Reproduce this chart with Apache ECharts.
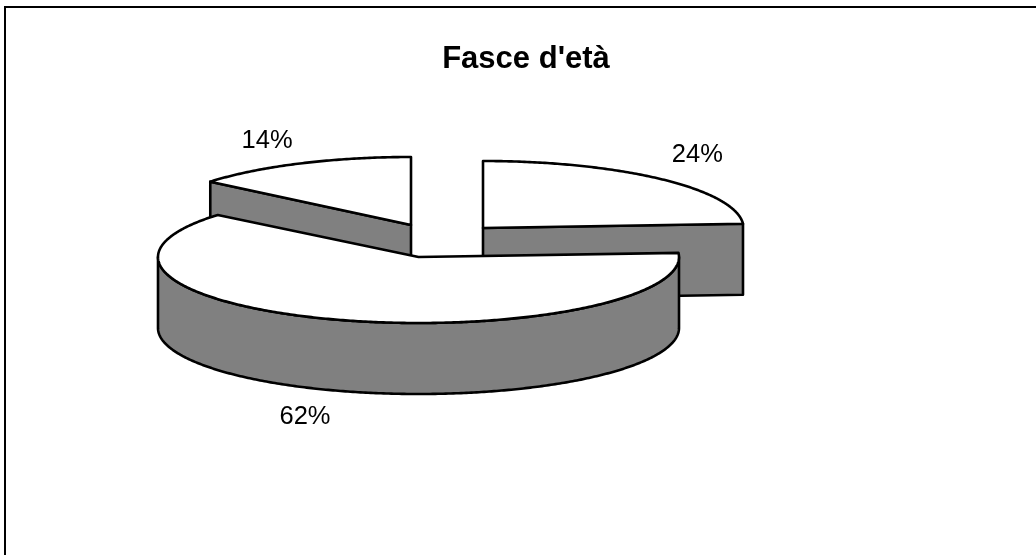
<!DOCTYPE html>
<html>
<head>
<meta charset="utf-8">
<style>html,body{margin:0;padding:0;background:#fff}#c{width:1036px;height:555px}</style>
<script src="https://cdn.jsdelivr.net/npm/echarts@6/dist/echarts.min.js"></script>
</head>
<body>
<div id="c"></div>
<script>
const chartTitle = "Fasce d'età";
const sliceValues = [24, 62, 14];
const drawOrder = [2, 0, 1];

const sliceCenters = [[483, 228], [418.5, 257], [411, 225]];
const sliceRadiiY = [67, 66, 68];
const labelNudges = [[36, -24], [-33, 26], [-33, -23]];
const radiusX = 260.5;
const depth = 71;
const FONT = '"Liberation Sans", Arial, sans-serif';

const total = sliceValues.reduce((a, b) => a + b, 0);
let acc = 0;
const slices = sliceValues.map((v, i) => {
  const a0 = acc / total * 2 * Math.PI;
  acc += v;
  return { a0, a1: acc / total * 2 * Math.PI, i };
});

function rim(s, t) {
  const c = sliceCenters[s.i];
  return [c[0] + radiusX * Math.sin(t), c[1] - sliceRadiiY[s.i] * Math.cos(t)];
}
function arc(s, from, to) {
  const n = Math.max(2, Math.ceil((to - from) / 0.01));
  const pts = [];
  for (let k = 0; k <= n; k++) pts.push(rim(s, from + (to - from) * k / n));
  return pts;
}
const down = p => [p[0], p[1] + depth];
const lineStyle = fill => ({ fill, stroke: '#000', lineWidth: 2.6, lineJoin: 'round' });
function poly(points, fill) {
  return { type: 'polygon', shape: { points }, style: lineStyle(fill) };
}
function cutWall(s, t) {
  const c = sliceCenters[s.i], r = rim(s, t);
  return poly([c, r, down(r), down(c)], '#808080');
}

function renderItem(params, api) {
  const s = slices[api.value(0)];
  const c = sliceCenters[s.i];
  const children = [];
  if (Math.sin(s.a1) > 1e-6) children.push(cutWall(s, s.a1));
  if (-Math.sin(s.a0) > 1e-6) children.push(cutWall(s, s.a0));
  const from = Math.max(s.a0, Math.PI / 2), to = Math.min(s.a1, 3 * Math.PI / 2);
  if (to > from) {
    const top = arc(s, from, to);
    children.push(poly(top.concat(top.map(down).reverse()), '#808080'));
  }
  children.push(poly([c].concat(arc(s, s.a0, s.a1)), '#fff'));
  const mid = (s.a0 + s.a1) / 2;
  const r = rim(s, mid), front = Math.cos(mid) < 0 ? depth : 0;
  children.push({
    type: 'text',
    z2: 10,
    style: {
      x: r[0] + labelNudges[s.i][0],
      y: r[1] + front + labelNudges[s.i][1],
      text: api.value(1) + '%',
      align: 'center', verticalAlign: 'middle',
      font: '25.5px ' + FONT, fill: '#000'
    }
  });
  return { type: 'group', children };
}

const chart = echarts.init(document.getElementById('c'), null, { renderer: 'canvas' });
chart.setOption({
  animation: false,
  backgroundColor: '#fff',
  title: {
    text: chartTitle, left: 521, top: 39, textAlign: 'center',
    textStyle: { fontFamily: FONT, fontWeight: 'bold', fontSize: 31, color: '#000' }
  },
  graphic: [{
    type: 'polyline', silent: true,
    shape: { points: [[5, 560], [5, 7], [1040, 7]] },
    style: { fill: 'none', stroke: '#000', lineWidth: 2 }
  }],
  series: [{
    type: 'custom',
    coordinateSystem: 'none',
    renderItem,
    silent: true,
    data: drawOrder.map(i => [i, sliceValues[i]])
  }]
});
</script>
</body>
</html>
